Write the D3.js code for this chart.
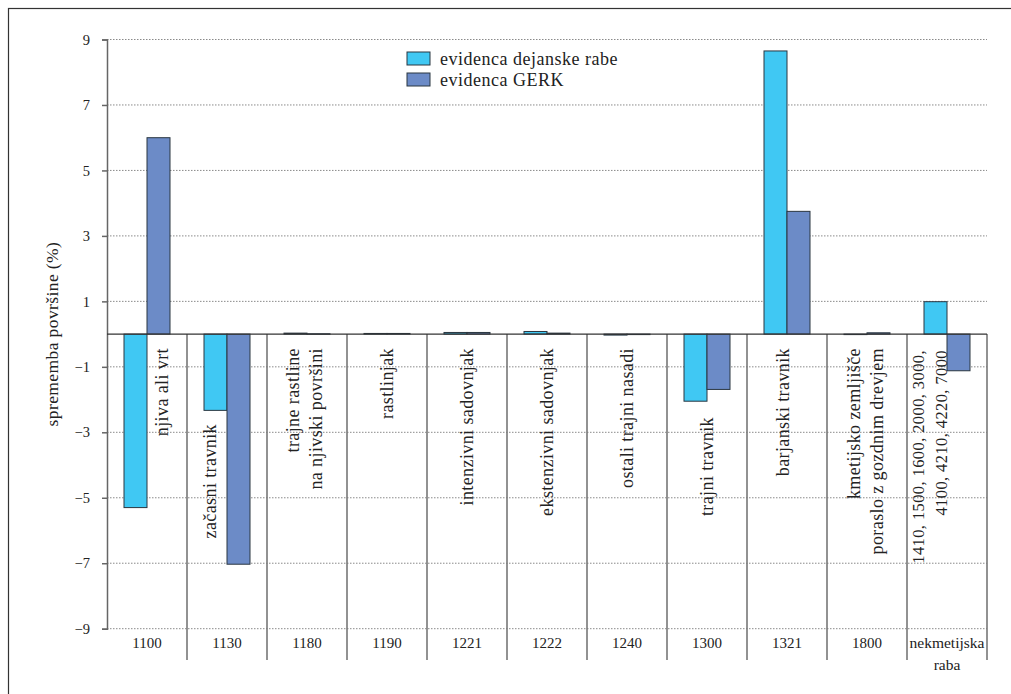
<!DOCTYPE html>
<html>
<head>
<meta charset="utf-8">
<script src="https://cdn.jsdelivr.net/npm/d3@7"></script>
<style>
  html, body { margin: 0; padding: 0; background: #fff; }
  svg { display: block; }
  text { font-family: "Liberation Serif", "Times New Roman", serif; fill: #222; }
</style>
</head>
<body>
<svg id="chart" width="1011" height="694"></svg>
<script>
// ---- data ----
const categories = ["1100", "1130", "1180", "1190", "1221", "1222", "1240", "1300", "1321", "1800", "nekmetijska raba"];
const categoryNames = [
  ["njiva ali vrt"],
  ["začasni travnik"],
  ["trajne rastline", "na njivski površini"],
  ["rastlinjak"],
  ["intenzivni sadovnjak"],
  ["ekstenzivni sadovnjak"],
  ["ostali trajni nasadi"],
  ["trajni travnik"],
  ["barjanski travnik"],
  ["kmetijsko zemljišče", "poraslo z gozdnim drevjem"],
  ["1410, 1500, 1600, 2000, 3000,", "4100, 4210, 4220, 7000"]
];
const seriesNames = ["evidenca dejanske rabe", "evidenca GERK"];
const dejanskaRaba = [-5.3, -2.33, 0.03, 0.02, 0.05, 0.08, -0.03, -2.05, 8.65, 0.0, 0.99];
const gerk = [6.0, -7.03, 0.01, 0.02, 0.05, 0.03, 0.0, -1.69, 3.75, 0.04, -1.12];
const yTicks = [9, 7, 5, 3, 1, -1, -3, -5, -7, -9];
const yTitle = "sprememba površine (%)";

// ---- layout (not data) ----
const colors = ["#40c8f3", "#6c8bc7"];
const pLeft = 107, pRight = 987, pTop = 39.5, pBottom = 628.7;
// label placement tweaks: [dx from category center, top y, font size]
const labelPlace = [[15, 348, 18], [-17, 424, 18], [-3, 348, 18], [0, 348, 18], [0, 348, 18], [0, 348, 18],
  [0, 348, 18], [0, 417, 18], [-4, 348, 18], [-2, 348, 18], [-17, 350, 16.5]];

const svg = d3.select("#chart");

// outer frame
svg.append("rect").attr("x", 8.5).attr("y", 8.5).attr("width", 1100).attr("height", 1000)
  .attr("fill", "none").attr("stroke", "#333").attr("stroke-width", 1.2);

const x = d3.scaleBand().domain(categories).range([pLeft, pRight]).padding(0);
const xs = d3.scaleBand().domain(seriesNames).range([0, x.bandwidth()]).paddingInner(0).paddingOuter(17 / 23);
const y = d3.scaleLinear().domain([-9, 9]).range([pBottom, pTop]);

// gridlines
svg.append("g").selectAll("line").data(yTicks).join("line")
  .attr("x1", pLeft).attr("x2", pRight)
  .attr("y1", d => y(d)).attr("y2", d => y(d))
  .attr("stroke", "#8a8a8a").attr("stroke-width", 1).attr("stroke-dasharray", "1.5,1.5");

// y axis
const yAxis = d3.axisLeft(y).tickValues(yTicks).tickSize(5).tickPadding(12).tickFormat(d3.format("d"));
const gy = svg.append("g").attr("transform", `translate(${pLeft},0)`).call(yAxis);
gy.select(".domain").attr("stroke", "#666").attr("stroke-width", 1.5);
gy.selectAll(".tick line").attr("stroke", "#666").attr("stroke-width", 1.5);
gy.selectAll(".tick text").attr("font-size", 14.5).attr("fill", "#222");

// y title
svg.append("text")
  .attr("transform", `translate(52,${y(0)}) rotate(-90)`)
  .attr("text-anchor", "middle").attr("dominant-baseline", "central")
  .attr("font-size", 17.5).attr("letter-spacing", 0.4).text(yTitle);

// bars
const rows = categories.map((c, i) => ({ c, i, vals: [dejanskaRaba[i], gerk[i]] }));
const groups = svg.append("g").selectAll("g").data(rows).join("g")
  .attr("transform", d => `translate(${x(d.c)},0)`);
groups.selectAll("rect").data(d => d.vals.map((v, k) => ({ v, k }))).join("rect")
  .attr("x", d => xs(seriesNames[d.k]))
  .attr("width", xs.bandwidth())
  .attr("y", d => y(Math.max(0, d.v)))
  .attr("height", d => Math.max(0.5, Math.abs(y(d.v) - y(0))))
  .attr("fill", d => colors[d.k])
  .attr("stroke", "#2a3640").attr("stroke-width", 1);

// category separators (below zero line)
const seps = categories.map(c => x(c) + x.bandwidth());
svg.append("g").selectAll("line").data(seps).join("line")
  .attr("x1", d => d).attr("x2", d => d)
  .attr("y1", y(0)).attr("y2", 660)
  .attr("stroke", "#777").attr("stroke-width", 1.6);

// zero line
svg.append("line").attr("x1", pLeft).attr("x2", pRight).attr("y1", y(0)).attr("y2", y(0))
  .attr("stroke", "#333").attr("stroke-width", 1.4);

// category codes
const xAxis = d3.axisBottom(x).tickSize(0).tickPadding(0);
const gx = svg.append("g").attr("transform", `translate(0,${pBottom})`).call(xAxis);
gx.select(".domain").remove();
gx.selectAll(".tick text").each(function (d) {
  const t = d3.select(this);
  const multi = d === "nekmetijska raba";
  t.text(null).attr("font-size", multi ? 15.5 : 15).attr("fill", "#222").attr("dy", null);
  const words = multi ? ["nekmetijska", "raba"] : [d];
  words.forEach((w, j) => t.append("tspan").attr("x", 0).attr("y", 19 + j * 22).text(w));
});

// rotated category names
categoryNames.forEach((lines, i) => {
  const cx = x(categories[i]) + x.bandwidth() / 2 + labelPlace[i][0];
  const g = svg.append("text")
    .attr("transform", `translate(${cx},${labelPlace[i][1]}) rotate(-90)`)
    .attr("text-anchor", "end").attr("font-size", labelPlace[i][2]).attr("letter-spacing", 0.4);
  lines.forEach((l, j) => {
    g.append("tspan").attr("x", 0)
      .attr("y", (j - (lines.length - 1) / 2) * 23)
      .attr("dominant-baseline", "central")
      .text(l);
  });
});

// legend
const lg = svg.append("g").attr("transform", "translate(407,52)");
seriesNames.forEach((s, k) => {
  lg.append("rect").attr("x", 0).attr("y", k * 21).attr("width", 23).attr("height", 13)
    .attr("fill", colors[k]).attr("stroke", "#2a3640").attr("stroke-width", 1);
  lg.append("text").attr("x", 33).attr("y", k * 21 + 7).attr("dominant-baseline", "central")
    .attr("font-size", 18).attr("letter-spacing", 0.5).text(s);
});
</script>
</body>
</html>
